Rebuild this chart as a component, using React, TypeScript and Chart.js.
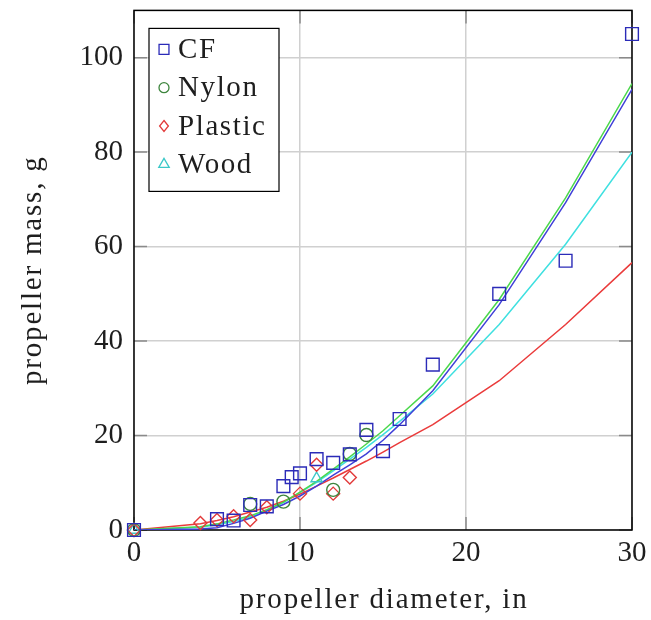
import React, { useEffect, useRef } from 'react';
import { Chart, registerables } from 'chart.js';
Chart.register(...registerables);

const xTicks = [0, 10, 20, 30];
const yTicks = [0, 20, 40, 60, 80, 100];
const xTitle = 'propeller diameter, in';
const yTitle = 'propeller mass, g';

const cfD = [0, 5, 6, 7, 8, 9, 9.5, 10, 11, 12, 13, 14, 15, 16, 18, 22, 26, 30];
const cfM = [0, 2.3, 2, 5.3, 5, 9.3, 11.2, 12, 15, 14.2, 16, 21.2, 16.7, 23.5, 35, 50, 57, 105];
const nylonD = [0, 7, 9, 12, 13, 14];
const nylonM = [0, 5.5, 6, 8.5, 16.1, 20.1];
const plasticD = [0, 4, 5, 6, 7, 8, 10, 11, 12, 13];
const plasticM = [0, 1.5, 2.1, 2.9, 2.1, 4.8, 7.7, 13.8, 7.7, 11.1];
const woodD = [0, 11];
const woodM = [0, 10.9];

const fitD = [0, 4, 5, 6, 7, 8, 9, 10, 11, 12, 13, 14, 15, 16, 18, 22, 26, 30];
const cfFit = [0, 0.2, 0.5, 1.4, 2.5, 4.0, 5.4, 7.2, 9.3, 11.6, 13.8, 16.1, 19.0, 22.3, 29.5, 47.7, 69.3, 93.3];
const nylonFit = [0, 0.7, 1.3, 2.1, 3.0, 4.3, 5.9, 8.0, 10.3, 12.9, 15.5, 18.2, 21.0, 24.2, 30.5, 48.8, 70.3, 94.5];
const plasticFit = [0, 1.3, 2.0, 2.8, 3.8, 4.8, 6.1, 7.6, 9.3, 11.0, 12.8, 14.6, 16.5, 18.5, 22.3, 31.6, 43.5, 56.6];
const woodFit = [0, 0.6, 1.1, 1.8, 2.7, 4.1, 5.8, 7.9, 10.1, 12.5, 15.0, 17.5, 20.2, 23.0, 28.8, 43.5, 60.5, 80.0];

const FONT = "'Liberation Serif', 'DejaVu Serif', serif";
const TEXT = '#1e1e1e';
const pts = (xs: number[], ys: number[]) => xs.map((x, i) => ({ x, y: ys[i] }));

const frameTicksPlugin = {
  id: 'frameTicks',
  beforeDatasetsDraw(chart: any) {
    const { ctx, chartArea: a, scales } = chart;
    ctx.save();
    ctx.strokeStyle = '#8a8a8a';
    ctx.lineWidth = 1.5;
    const L = 13;
    xTicks.forEach((v) => {
      const px = scales.x.getPixelForValue(v);
      ctx.beginPath();
      ctx.moveTo(px, a.bottom); ctx.lineTo(px, a.bottom - L);
      ctx.moveTo(px, a.top); ctx.lineTo(px, a.top + L);
      ctx.stroke();
    });
    yTicks.forEach((v) => {
      const py = scales.y.getPixelForValue(v);
      ctx.beginPath();
      ctx.moveTo(a.left, py); ctx.lineTo(a.left + L, py);
      ctx.moveTo(a.right, py); ctx.lineTo(a.right - L, py);
      ctx.stroke();
    });
    ctx.strokeStyle = '#000';
    ctx.lineWidth = 1.5;
    ctx.strokeRect(a.left, a.top, a.right - a.left, a.bottom - a.top);
    ctx.restore();
  },
};

function drawMarker(ctx: CanvasRenderingContext2D, style: string, r: number, x: number, y: number) {
  ctx.beginPath();
  if (style === 'rect') {
    const s = r * Math.SQRT1_2;
    ctx.rect(x - s, y - s, 2 * s, 2 * s);
  } else if (style === 'circle') {
    ctx.arc(x, y, r, 0, Math.PI * 2);
  } else if (style === 'rectRot') {
    ctx.moveTo(x, y - r); ctx.lineTo(x + r * 0.8, y); ctx.lineTo(x, y + r); ctx.lineTo(x - r * 0.8, y); ctx.closePath();
  } else if (style === 'triangle') {
    ctx.moveTo(x, y - r); ctx.lineTo(x + r * 0.87, y + r * 0.5); ctx.lineTo(x - r * 0.87, y + r * 0.5); ctx.closePath();
  }
  ctx.stroke();
}

const legendPlugin = {
  id: 'boxLegend',
  afterDraw(chart: any) {
    const { ctx, chartArea: a } = chart;
    const items = chart.data.datasets.filter((d: any) => d.legendLabel);
    const bx = a.left + 15, by = a.top + 18, bw = 130, bh = 163;
    ctx.save();
    ctx.fillStyle = '#fff';
    ctx.fillRect(bx, by, bw, bh);
    ctx.strokeStyle = '#000';
    ctx.lineWidth = 1.2;
    ctx.strokeRect(bx, by, bw, bh);
    items.forEach((d: any, i: number) => {
      const cy = by + 21 + i * 38.3;
      ctx.strokeStyle = d.borderColor;
      ctx.lineWidth = 1.3;
      drawMarker(ctx, d.pointStyle, d.legendRadius, bx + 15, cy);
      ctx.fillStyle = TEXT;
      ctx.font = `29px ${FONT}`;
      (ctx as any).letterSpacing = '1.6px';
      ctx.textBaseline = 'middle';
      ctx.textAlign = 'left';
      ctx.fillText(d.legendLabel, bx + 29, cy + 1);
    });
    ctx.restore();
  },
};

const titlePlugin = {
  id: 'axisTitles',
  afterDraw(chart: any) {
    const { ctx, chartArea: a } = chart;
    ctx.save();
    ctx.fillStyle = TEXT;
    ctx.font = `29px ${FONT}`;
    (ctx as any).letterSpacing = '1.8px';
    ctx.textAlign = 'center';
    ctx.textBaseline = 'middle';
    ctx.fillText(xTitle, (a.left + a.right) / 2 + 1, 600);
    ctx.translate(33, (a.top + a.bottom) / 2);
    ctx.rotate(-Math.PI / 2);
    ctx.fillText(yTitle, 0, 0);
    ctx.restore();
  },
};

export default function App() {
  const ref = useRef<HTMLCanvasElement>(null);
  useEffect(() => {
    if (!ref.current) return;
    const lineDs = (data: number[], color: string) => ({
      data: pts(fitD, data),
      showLine: true,
      borderColor: color,
      borderWidth: 1.5,
      pointRadius: 0,
      fill: false,
      order: 2,
    });
    const scatDs = (label: string, xs: number[], ys: number[], color: string, style: string, r: number, lr: number) => ({
      legendLabel: label,
      data: pts(xs, ys),
      showLine: false,
      clip: false,
      borderColor: color,
      backgroundColor: 'rgba(0,0,0,0)',
      pointStyle: style,
      pointRadius: r,
      pointBorderWidth: 1.4,
      legendRadius: lr,
      order: 1,
    });
    const chart = new Chart(ref.current, {
      type: 'scatter',
      data: {
        datasets: [
          scatDs('CF', cfD, cfM, '#2b2bb8', 'rect', 9, 7),
          scatDs('Nylon', nylonD, nylonM, '#3d853d', 'circle', 6.5, 5),
          scatDs('Plastic', plasticD, plasticM, '#e23a3a', 'rectRot', 6.5, 5.5),
          scatDs('Wood', woodD, woodM, '#3cc8c8', 'triangle', 6.5, 6),
          lineDs(cfFit, '#4040d8'),
          lineDs(nylonFit, '#4cd84c'),
          lineDs(plasticFit, '#ea3b3b'),
          lineDs(woodFit, '#3fe0e0'),
        ] as any,
      },
      options: {
        animation: false,
        responsive: false,
        layout: { padding: { top: 6, right: 19, left: 0, bottom: 0 } },
        plugins: { legend: { display: false }, tooltip: { enabled: false } },
        scales: {
          x: {
            type: 'linear',
            min: 0,
            max: 30,
            afterFit: (s: any) => { s.height = 90; s.paddingLeft = 0; s.paddingRight = 0; },
            afterBuildTicks: (s: any) => { s.ticks = xTicks.map((v) => ({ value: v })); },
            grid: { color: '#d0d0d0', lineWidth: 1.5, drawTicks: false },
            border: { display: false },
            ticks: { font: { family: FONT, size: 29 }, color: TEXT, padding: 6 },
            title: { display: false },
          },
          y: {
            type: 'linear',
            min: 0,
            max: 110,
            afterFit: (s: any) => { s.width = 134; s.paddingTop = 0; s.paddingBottom = 0; },
            afterBuildTicks: (s: any) => { s.ticks = yTicks.map((v) => ({ value: v })); },
            grid: { color: '#d0d0d0', lineWidth: 1.5, drawTicks: false },
            border: { display: false },
            ticks: { font: { family: FONT, size: 29 }, color: TEXT, padding: 11 },
            title: { display: false },
          },
        },
      },
      plugins: [frameTicksPlugin, legendPlugin, titlePlugin],
    } as any);
    return () => chart.destroy();
  }, []);
  return (
    <div style={{ position: 'fixed', left: 0, top: 0, width: 651, height: 620, background: '#fff' }}>
      <canvas ref={ref} width={651} height={620} style={{ width: 651, height: 620 }} />
    </div>
  );
}
